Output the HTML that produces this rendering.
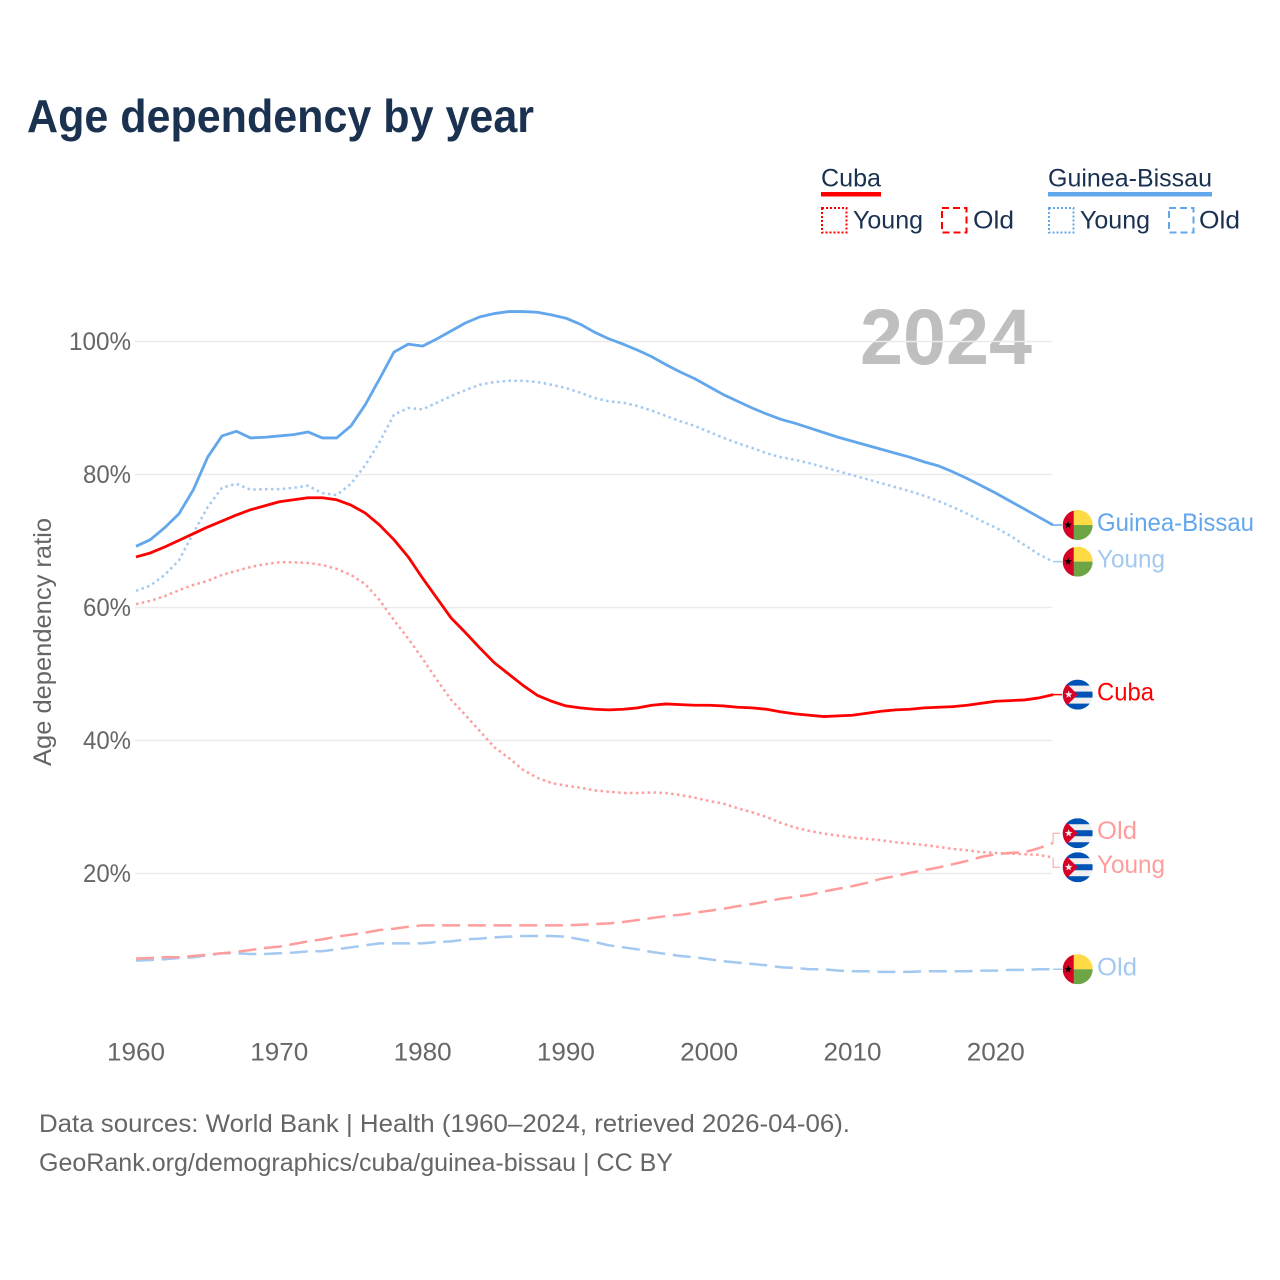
<!DOCTYPE html>
<html lang="en">
<head>
<meta charset="utf-8">
<title>Age dependency by year</title>
<style>
html,body{margin:0;padding:0;background:#fff;}
svg{display:block;}
text{font-family:"Liberation Sans",sans-serif;}
</style>
</head>
<body>
<svg id="chart" xmlns="http://www.w3.org/2000/svg" width="1280" height="1280" viewBox="0 0 1280 1280">
  <rect x="0" y="0" width="1280" height="1280" fill="#fff"/>
  <text x="27" y="132" font-size="46" font-weight="700" fill="#1a3150" textLength="507" lengthAdjust="spacingAndGlyphs">Age dependency by year</text>

  <g font-size="25" fill="#1a3150">
    <text x="821" y="186.5" textLength="60" lengthAdjust="spacingAndGlyphs">Cuba</text>
    <rect x="821" y="192" width="60" height="4.5" fill="#ff0000"/>
    <rect x="822" y="208" width="24.5" height="24.5" fill="none" stroke="#ff0000" stroke-width="2" stroke-dasharray="2 2"/>
    <text x="853" y="228.5" textLength="70" lengthAdjust="spacingAndGlyphs">Young</text>
    <rect x="942" y="208" width="24.5" height="24.5" fill="none" stroke="#ff0000" stroke-width="2" stroke-dasharray="7 4"/>
    <text x="973" y="228.5" textLength="41" lengthAdjust="spacingAndGlyphs">Old</text>
    <text x="1048" y="186.5" textLength="164" lengthAdjust="spacingAndGlyphs">Guinea-Bissau</text>
    <rect x="1048" y="192" width="164" height="4.5" fill="#62a7ec"/>
    <rect x="1049" y="208" width="24.5" height="24.5" fill="none" stroke="#62a7ec" stroke-width="2" stroke-dasharray="2 2"/>
    <text x="1080" y="228.5" textLength="70" lengthAdjust="spacingAndGlyphs">Young</text>
    <rect x="1169" y="208" width="24.5" height="24.5" fill="none" stroke="#62a7ec" stroke-width="2" stroke-dasharray="7 4"/>
    <text x="1199" y="228.5" textLength="41" lengthAdjust="spacingAndGlyphs">Old</text>
  </g>

  <text transform="translate(51,642) rotate(-90)" text-anchor="middle" font-size="25" fill="#666" textLength="248" lengthAdjust="spacingAndGlyphs">Age dependency ratio</text>
  <text x="860" y="364" font-size="79" font-weight="700" fill="#bfbfbf" textLength="172" lengthAdjust="spacingAndGlyphs">2024</text>

  <g id="grid"></g>
  <g id="y-ticks"></g>
  <g id="x-ticks"></g>
  <g id="series"></g>
  <g id="end-labels"></g>

  <text x="39" y="1132" font-size="25" fill="#666" textLength="811" lengthAdjust="spacingAndGlyphs">Data sources: World Bank | Health (1960–2024, retrieved 2026-04-06).</text>
  <text x="39" y="1171" font-size="25" fill="#666" textLength="634" lengthAdjust="spacingAndGlyphs">GeoRank.org/demographics/cuba/guinea-bissau | CC BY</text>
</svg>
<script>
const startYear = 1960;
const xTickYears = [1960, 1970, 1980, 1990, 2000, 2010, 2020];
const yTickValues = [20, 40, 60, 80, 100];

const guineaBissauTotal = [69.2,70.2,72.0,74.1,77.7,82.6,85.8,86.5,85.5,85.6,85.8,86.0,86.4,85.5,85.5,87.3,90.5,94.4,98.4,99.6,99.3,100.4,101.6,102.8,103.7,104.2,104.5,104.5,104.4,104.0,103.5,102.6,101.4,100.4,99.6,98.7,97.7,96.5,95.4,94.4,93.2,92.0,91.0,90.0,89.1,88.3,87.7,87.0,86.3,85.6,85.0,84.4,83.8,83.2,82.6,81.9,81.3,80.4,79.4,78.3,77.2,76.0,74.8,73.6,72.4];
const guineaBissauYoung = [62.5,63.3,64.9,67.1,71.2,75.1,78.0,78.6,77.7,77.8,77.8,78.0,78.3,77.2,76.9,78.6,81.4,84.9,89.0,90.0,89.8,90.8,91.8,92.7,93.5,93.9,94.1,94.1,93.9,93.5,93.0,92.3,91.5,91.0,90.8,90.3,89.6,88.8,88.0,87.3,86.4,85.5,84.7,84.0,83.2,82.6,82.2,81.7,81.1,80.5,79.9,79.3,78.7,78.1,77.5,76.8,76.0,75.1,74.1,73.0,72.0,70.8,69.4,68.0,66.9];
const guineaBissauOld = [6.9,7.0,7.1,7.3,7.4,7.7,8.0,8.0,7.9,7.9,8.0,8.1,8.3,8.3,8.6,8.9,9.2,9.5,9.5,9.5,9.5,9.7,9.8,10.1,10.2,10.4,10.5,10.6,10.6,10.6,10.5,10.1,9.7,9.2,8.9,8.6,8.2,7.9,7.6,7.4,7.1,6.8,6.6,6.4,6.2,5.9,5.8,5.6,5.6,5.4,5.3,5.3,5.2,5.2,5.2,5.3,5.3,5.3,5.3,5.4,5.4,5.5,5.5,5.6,5.6];
const cubaTotal = [67.6,68.2,69.1,70.1,71.1,72.1,73.0,73.9,74.7,75.3,75.9,76.2,76.5,76.5,76.2,75.4,74.2,72.4,70.2,67.6,64.4,61.4,58.4,56.2,53.9,51.7,50.0,48.3,46.8,45.9,45.2,44.9,44.7,44.6,44.7,44.9,45.3,45.5,45.4,45.3,45.3,45.2,45.0,44.9,44.7,44.3,44.0,43.8,43.6,43.7,43.8,44.1,44.4,44.6,44.7,44.9,45.0,45.1,45.3,45.6,45.9,46.0,46.1,46.4,46.9];
const cubaYoung = [60.5,61.0,61.7,62.6,63.4,64.0,64.9,65.5,66.1,66.5,66.8,66.8,66.7,66.4,65.8,64.9,63.5,61.1,58.1,55.3,52.3,49.1,46.1,43.8,41.4,39.0,37.4,35.6,34.4,33.6,33.2,32.9,32.5,32.3,32.1,32.1,32.2,32.1,31.8,31.4,30.9,30.5,29.8,29.2,28.5,27.6,26.9,26.4,26.0,25.7,25.4,25.2,25.0,24.7,24.5,24.3,24.0,23.7,23.5,23.2,23.1,23.0,22.9,22.8,22.4];
const cubaOld = [7.2,7.3,7.4,7.4,7.6,7.8,8.0,8.2,8.5,8.8,9.0,9.4,9.8,10.1,10.5,10.8,11.1,11.5,11.7,12.0,12.2,12.2,12.2,12.2,12.2,12.2,12.2,12.2,12.2,12.2,12.2,12.3,12.4,12.5,12.7,13.0,13.3,13.6,13.8,14.1,14.4,14.7,15.1,15.4,15.8,16.2,16.5,16.8,17.3,17.7,18.1,18.6,19.2,19.6,20.1,20.5,20.9,21.4,21.9,22.5,22.9,23.1,23.2,23.8,24.6];

const SVGNS = 'http://www.w3.org/2000/svg';
const xAxis = year => 136 + (year - startYear) * 14.33;
const yAxis = value => 1006.5 - value * 6.65;

function make(tag, parent, attrs) {
  const el = document.createElementNS(SVGNS, tag);
  for (const k in attrs) el.setAttribute(k, attrs[k]);
  parent.appendChild(el);
  return el;
}

const gridG = document.getElementById('grid');
const yG = document.getElementById('y-ticks');
yTickValues.forEach(v => {
  const line = make('line', gridG, {x1: 135, x2: 1052, y1: yAxis(v), y2: yAxis(v), stroke: '#ebebeb', 'stroke-width': 1.5});
  
  
  const label = make('text', yG, {x: 131, y: yAxis(v) + 8.3, 'text-anchor': 'end', 'font-size': 25, fill: '#666', textLength: v === 100 ? 62 : 48, lengthAdjust: 'spacingAndGlyphs'});
  label.textContent = v + '%';
  
  
});

const xG = document.getElementById('x-ticks');
xTickYears.forEach(yr => {
  const label = make('text', xG, {x: xAxis(yr), y: 1060.5, 'text-anchor': 'middle', 'font-size': 25, fill: '#666', textLength: 58, lengthAdjust: 'spacingAndGlyphs'});
  label.textContent = yr;
  
  
});

const RED = '#ff0000', BLUE = '#62a7ec', LRED = '#ff9d9d', LBLUE = '#a3c9f1';
const DOT = '2.5 3.4', DASH = '18 7.7';

const seriesDefs = [
  {name: 'guinea-bissau-old', values: guineaBissauOld, color: LBLUE, width: 2.5, dash: DASH, label: 'Old', labelLen: 40, flag: 'gw'},
  {name: 'cuba-old', values: cubaOld, color: LRED, width: 2.5, dash: DASH, label: 'Old', labelLen: 40, flag: 'cu'},
  {name: 'guinea-bissau-young', values: guineaBissauYoung, color: LBLUE, width: 2.5, dash: DOT, label: 'Young', labelLen: 68, flag: 'gw'},
  {name: 'cuba-young', values: cubaYoung, color: LRED, width: 2.5, dash: DOT, label: 'Young', labelLen: 68, flag: 'cu'},
  {name: 'guinea-bissau-total', values: guineaBissauTotal, color: BLUE, width: 2.8, dash: null, label: 'Guinea-Bissau', labelLen: 157, flag: 'gw'},
  {name: 'cuba-total', values: cubaTotal, color: RED, width: 2.8, dash: null, label: 'Cuba', labelLen: 57, flag: 'cu'}
];

const seriesG = document.getElementById('series');
seriesDefs.forEach(s => {
  const d = s.values.map((v, i) => (i ? 'L' : 'M') + xAxis(startYear + i).toFixed(2) + ' ' + yAxis(v).toFixed(2)).join('');
  const attrs = {d: d, fill: 'none', stroke: s.color, 'stroke-width': s.width, 'stroke-linejoin': 'round'};
  if (s.dash) attrs['stroke-dasharray'] = s.dash;
  const path = make('path', seriesG, attrs);
  
  
});

/* end-label layout: push colliding labels apart */
const MIN_GAP = 34;
const ordered = seriesDefs.slice().sort((a, b) => yAxis(a.values[a.values.length - 1]) - yAxis(b.values[b.values.length - 1]));
ordered.forEach(s => { s.endY = yAxis(s.values[s.values.length - 1]); s.labelY = s.endY; });
for (let i = 1; i < ordered.length; i++) {
  const a = ordered[i - 1], b = ordered[i];
  if (b.labelY - a.labelY < MIN_GAP) {
    const mid = (a.labelY + b.labelY) / 2;
    a.labelY = mid - MIN_GAP / 2;
    b.labelY = mid + MIN_GAP / 2;
  }
}

const defs = make('defs', document.getElementById('chart'), {});
const labelsG = document.getElementById('end-labels');
const endX = xAxis(startYear + 64);
let clipCount = 0;

function star(cx, cy, r, fill, parent) {
  let pts = [];
  for (let i = 0; i < 10; i++) {
    const rad = i % 2 ? r * 0.42 : r;
    const ang = -Math.PI / 2 + i * Math.PI / 5;
    pts.push((cx + rad * Math.cos(ang)).toFixed(2) + ',' + (cy + rad * Math.sin(ang)).toFixed(2));
  }
  return make('polygon', parent, {points: pts.join(' '), fill: fill});
}

function drawFlag(kind, cx, cy, parent) {
  const id = 'flag-clip-' + (clipCount++);
  const cp = make('clipPath', defs, {id: id});
  make('circle', cp, {cx: cx, cy: cy, r: 15});
  const g = make('g', parent, {'clip-path': 'url(#' + id + ')'});
  
  
  const L = cx - 15, T = cy - 15;
  if (kind === 'gw') {
    make('rect', g, {x: L, y: T, width: 30, height: 15, fill: '#ffda44'});
    make('rect', g, {x: L, y: cy, width: 30, height: 15, fill: '#6da544'});
    make('rect', g, {x: L, y: T, width: 11, height: 30, fill: '#d80027'});
    star(L + 5.5, cy, 4, '#000', g);
  } else {
    make('rect', g, {x: L, y: T, width: 30, height: 30, fill: '#f0f0f0'});
    make('rect', g, {x: L, y: T, width: 30, height: 6, fill: '#0052b4'});
    make('rect', g, {x: L, y: cy - 3, width: 30, height: 6, fill: '#0052b4'});
    make('rect', g, {x: L, y: cy + 9, width: 30, height: 6, fill: '#0052b4'});
    make('polygon', g, {points: L + ',' + T + ' ' + (L + 15) + ',' + cy + ' ' + L + ',' + (T + 30), fill: '#d80027'});
    star(L + 6, cy, 4, '#f0f0f0', g);
  }
}

seriesDefs.forEach(s => {
  const elbow = Math.abs(s.labelY - s.endY) > 0.5;
  const c = elbow
    ? 'M' + endX + ' ' + s.endY + 'V' + s.labelY + 'H1060'
    : 'M' + endX + ' ' + s.endY + 'H1062';
  const conn = make('path', labelsG, {d: c, fill: 'none', stroke: s.color, 'stroke-width': elbow ? 1 : 1.5});
  
  
  drawFlag(s.flag, 1077.7, s.labelY, labelsG);
  const t = make('text', labelsG, {x: 1097, y: s.labelY + 6, 'font-size': 25, fill: s.color, textLength: s.labelLen, lengthAdjust: 'spacingAndGlyphs'});
  t.textContent = s.label;
  
  
});
</script>
</body>
</html>
